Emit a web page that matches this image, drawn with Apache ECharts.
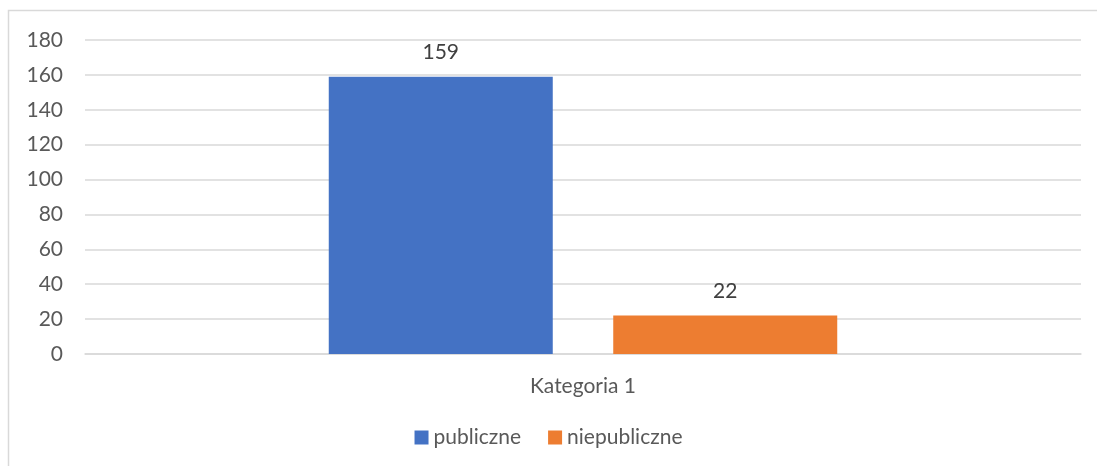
<!DOCTYPE html>
<html>
<head>
<meta charset="utf-8">
<script src="https://cdn.jsdelivr.net/npm/echarts@6/dist/echarts.min.js"></script>
<style>
  html, body { margin: 0; padding: 0; background: #fff; }
  #chart { width: 1097px; height: 466px; }
</style>
</head>
<body>
<div id="chart"></div>
<script>
const categories = ["Kategoria 1"];
const publiczne = [159];
const niepubliczne = [22];
const yTicks = [0, 20, 40, 60, 80, 100, 120, 140, 160, 180];

const font = "Lato, 'Open Sans', sans-serif";
const textColor = "#595959";

const chart = echarts.init(document.getElementById("chart"));

chart.setOption({
    animation: false,
    textStyle: { fontFamily: font },
    graphic: [{
        type: "rect",
        shape: { x: 8.5, y: 10.5, width: 1095, height: 470 },
        style: { fill: "none", stroke: "#d9d9d9", lineWidth: 1.5 },
        silent: true
    }],
    grid: { left: 85, right: 16, top: 40, bottom: 112 },
    legend: {
        bottom: 13,
        left: "center",
        itemWidth: 14,
        itemHeight: 14,
        itemGap: 27,
        icon: "rect",
        textStyle: { color: textColor, fontSize: 21, fontFamily: font },
        data: ["publiczne", "niepubliczne"]
    },
    xAxis: {
        type: "category",
        data: categories,
        axisLine: { lineStyle: { color: "#d9d9d9", width: 1.5 } },
        axisTick: { show: false },
        axisLabel: { color: textColor, fontSize: 21, margin: 22, fontFamily: font }
    },
    yAxis: {
        type: "value",
        min: yTicks[0],
        max: yTicks[yTicks.length - 1],
        interval: 20,
        axisLine: { show: false },
        axisTick: { show: false },
        axisLabel: { color: textColor, fontSize: 21, margin: 22, fontFamily: font },
        splitLine: { lineStyle: { color: "#d9d9d9", width: 1.5 } }
    },
    series: [
        {
            name: "publiczne",
            type: "bar",
            data: publiczne,
            barWidth: 224,
            barGap: "27%",
            itemStyle: { color: "#4472c4" },
            label: { show: true, position: "top", distance: 14, color: "#404040", fontSize: 21, fontFamily: font }
        },
        {
            name: "niepubliczne",
            type: "bar",
            data: niepubliczne,
            barWidth: 224,
            itemStyle: { color: "#ed7d31" },
            label: { show: true, position: "top", distance: 14, color: "#404040", fontSize: 21, fontFamily: font }
        }
    ]
});
</script>
</body>
</html>
